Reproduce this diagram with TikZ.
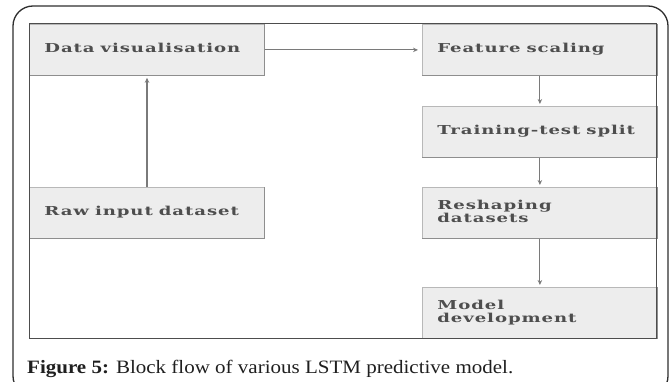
\documentclass[tikz,border=0pt]{standalone}
\usepackage{fontspec}
\setmainfont{Liberation Serif}
\newfontfamily\boxfont{DejaVu Serif}[LetterSpace=5]
\usetikzlibrary{arrows.meta}
\definecolor{boxfill}{HTML}{EDEDED}
\definecolor{boxedge}{HTML}{B8B8B8}
\definecolor{boxshade}{HTML}{8E8E8E}
\definecolor{boxtext}{HTML}{4E4E4E}
\definecolor{arrowgray}{HTML}{7A7A7A}
\definecolor{framegray}{HTML}{2E2E2E}
\newlength\refw
\newcommand\boxfontsel{\boxfont\bfseries\fontsize{12.3}{13}\selectfont}
\newcommand\bt[1]{\scalebox{\bxs}[1]{\begin{tabular}{@{}l@{}}#1\end{tabular}}}
\AtBeginDocument{%
  \sbox0{\boxfontsel Data visualisation}%
  \global\refw=\wd0
  \pgfmathsetmacro\bxstmp{197/\refw}%
  \xdef\bxs{\bxstmp}}
\tikzset{
  blk/.style={draw=boxedge, fill=boxfill, line width=0.8pt, anchor=north west,
    minimum width=235pt, minimum height=51pt, text width=205pt, inner xsep=15pt,
    align=left, text=boxtext, font=\boxfontsel},
  shade/.style={draw=boxshade, line width=1.3pt},
  flow/.style={draw=arrowgray, line width=1.1pt, -{Stealth[length=5pt,width=4.5pt]}},
  outerframe/.style={draw=framegray, line width=1.3pt, rounded corners=20pt},
  innerframe/.style={draw=framegray!85, line width=1pt}
}
\begin{document}
\begin{tikzpicture}[x=1pt,y=-1pt]
\useasboundingbox (0,0) rectangle (671,382);
\begin{scope}
  \clip (0,0) rectangle (671,382);
  \draw[outerframe] (13,6) rectangle (668,396);
\end{scope}

\node[blk] (dv) at (29,24) {\bt{Data visualisation}};
\node[blk] (raw) at (29,187) {\bt{Raw input dataset}};
\node[blk] (fs) at (422,24) {\bt{Feature scaling}};
\node[blk] (tt) at (422,106) {\bt{Training-test split}};
\node[blk] (rs) at (422,187) {\bt{Reshaping\\datasets}};
\node[blk] (md) at (422,287) {\bt{Model\\development}};

\foreach \n in {dv,raw,fs,tt,rs,md}{
  \draw[shade] (\n.north east) -- (\n.south east) -- (\n.south west);
}

\draw[innerframe] (29,24) rectangle (656,338);

\draw[flow, shorten >=4pt] (dv.east) -- (fs.west);
\draw[flow, shorten >=2pt] (raw.north -| 147,0) -- (dv.south -| 147,0);
\draw[flow, shorten >=2pt] (fs.south) -- (tt.north);
\draw[flow, shorten >=2pt] (tt.south) -- (rs.north);
\draw[flow, shorten >=2pt] (rs.south) -- (md.north);

\node[anchor=base west, inner sep=0pt, text=black!88] (cap) at (27,373)
  {\resizebox{486pt}{13.3pt}{\fontsize{18}{20}\selectfont\textbf{Figure 5:} Block flow of various LSTM predictive model.}};
\end{tikzpicture}
\end{document}
